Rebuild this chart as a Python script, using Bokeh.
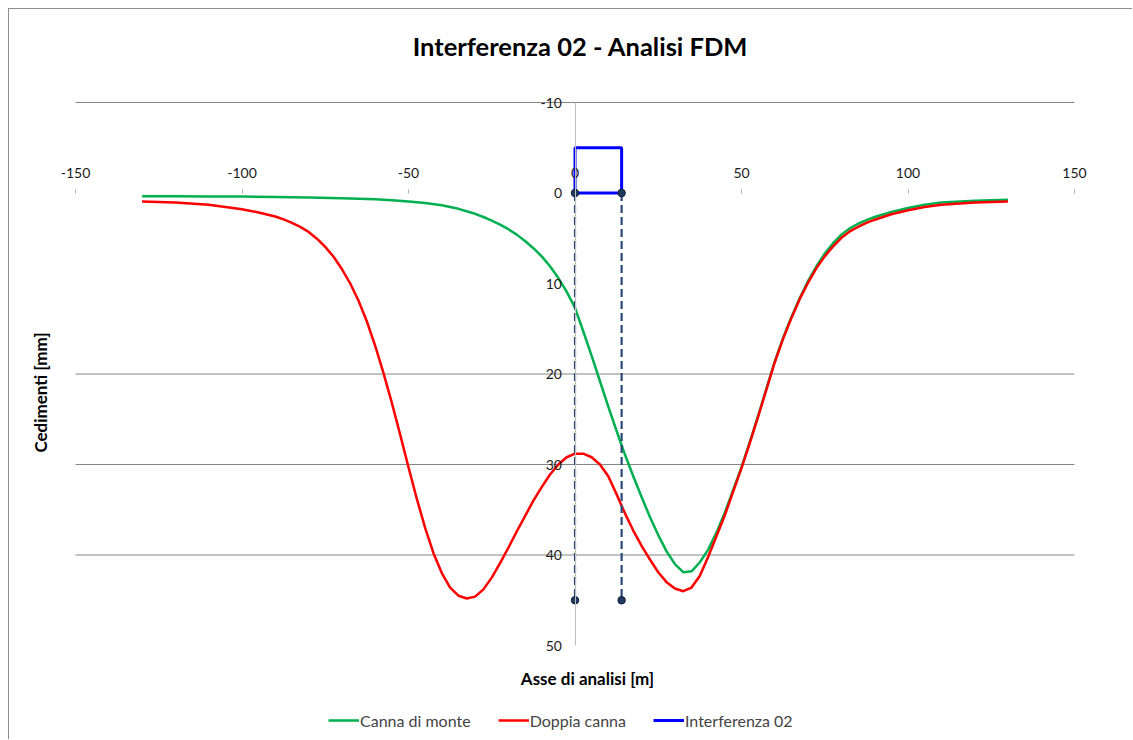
import math
from bokeh.plotting import figure
from bokeh.models import (Range1d, LinearAxis, FixedTicker, Label, Legend,
                          LegendItem, ColumnDataSource)
from bokeh.embed import file_html
from bokeh.resources import INLINE

FONT = "Lato"

# ---------------- data ----------------
x_ticks = [-150, -100, -50, 0, 50, 100, 150]
y_ticks = [-10, 0, 10, 20, 30, 40, 50]
y_grid_ticks = [-10, 20, 30, 40]

monte_x = [-130, -120, -110, -100, -90, -80, -70, -60, -55, -50, -45, -40, -35, -30,
           -27.5, -25, -22.5, -20, -17.5, -15, -12.5, -10, -7.5, -5, -2.5, 0,
           2.5, 5, 7.5, 10, 12.5, 15, 17.5, 20, 22.5, 25, 27.5, 30, 32.5, 35, 37.5,
           40, 42.5, 45, 47.5, 50, 52.5, 55, 57.5, 60, 62.5, 65, 67.5, 70, 72.5, 75,
           77.5, 80, 82.5, 85, 87.5, 90, 95, 100, 105, 110, 120, 130]
monte_y = [0.35, 0.35, 0.38, 0.4, 0.45, 0.5, 0.58, 0.7, 0.8, 0.93, 1.1, 1.35, 1.75, 2.3,
           2.65, 3.05, 3.5, 4.0, 4.6, 5.3, 6.1, 7.0, 8.1, 9.4, 10.9, 12.7,
           15.3, 18.0, 20.8, 23.6, 26.3, 28.9, 31.3, 33.6, 35.8, 37.8, 39.6, 41.0, 41.9, 41.8, 40.8,
           39.4, 37.5, 35.3, 32.8, 30.3, 27.5, 24.6, 21.6, 18.6, 16.0, 13.7, 11.6, 9.7, 8.1, 6.7,
           5.55, 4.6, 3.9, 3.4, 3.0, 2.65, 2.1, 1.65, 1.3, 1.05, 0.85, 0.75]

doppia_x = [-130, -120, -110, -100, -95, -90, -87.5, -85, -82.5, -80, -77.5, -75, -72.5,
            -70, -67.5, -65, -62.5, -60, -57.5, -55, -52.5, -50, -47.5, -45, -42.5, -40,
            -37.5, -35, -32.5, -30, -27.5, -25, -22.5, -20, -17.5, -15, -12.5, -10, -7.5,
            -5, -2.5, 0, 2.5, 5, 7.5, 10, 12.5, 15, 17.5, 20, 22.5, 25, 27.5, 30, 32.5, 35,
            37.5, 40, 42.5, 45, 47.5, 50, 52.5, 55, 57.5, 60, 62.5, 65, 67.5, 70, 72.5,
            75, 77.5, 80, 82.5, 85, 87.5, 90, 95, 100, 105, 110, 120, 130]
doppia_y = [0.95, 1.05, 1.3, 1.8, 2.15, 2.6, 2.92, 3.3, 3.75, 4.3, 5.05, 5.95, 7.05,
            8.4, 10.0, 11.9, 14.2, 16.9, 19.9, 23.2, 26.7, 30.3, 33.8, 37.0, 39.8, 42.0,
            43.6, 44.5, 44.8, 44.6, 43.8, 42.5, 40.9, 39.2, 37.4, 35.7, 34.0, 32.5, 31.1,
            30.0, 29.2, 28.8, 28.8, 29.2, 30.0, 31.3, 33.3, 35.4, 37.3, 39.0, 40.5, 41.9, 43.0, 43.7, 44.0, 43.6,
            42.3, 40.2, 37.9, 35.6, 33.0, 30.4, 27.6, 24.7, 21.7, 18.7, 16.1, 13.8, 11.7, 9.9, 8.3,
            7.0, 5.9, 4.95, 4.25, 3.75, 3.3, 2.95, 2.35, 1.9, 1.55, 1.3, 1.05, 0.95]

interf_x = [0, 0, 14, 14, 0]
interf_y = [0, -5, -5, 0, 0]

sez_x = [0, 14]
sez_top = [0, 0]
sez_bot = [45, 45]

title_text = "Interferenza 02 - Analisi FDM"
x_title = "Asse di analisi [m]"
y_title = "Cedimenti [mm]"
legend_labels = ["Canna di monte", "Doppia canna", "Interferenza 02"]

# ---------------- layout (pixels) ----------------
W, H = 1124, 731                 # canvas size
PL, PT, PR, PB = 66, 93, 1065, 636  # plot area inside canvas
xmin, xmax = x_ticks[0], x_ticks[-1]
ymin, ymax = y_ticks[0], y_ticks[-1]
kx = (PR - PL) / (xmax - xmin)
ky = (PB - PT) / (ymax - ymin)
x_start = xmin - PL / kx
x_end = xmax + (W - PR) / kx
y_top = ymin - PT / ky
y_bottom = ymax + (H - PB) / ky

p = figure(width=W, height=H,
           x_range=Range1d(x_start, x_end), y_range=Range1d(y_bottom, y_top),
           x_axis_type=None, y_axis_type=None,
           output_backend="svg", toolbar_location=None,
           min_border_left=0, min_border_right=0,
           min_border_top=0, min_border_bottom=0,
           outline_line_color=None, background_fill_color="white",
           border_fill_color="white")
p.styles = {"margin-left": "8px", "margin-top": "8px",
            "border-top": "1px solid #8e8e8e", "border-left": "1px solid #8e8e8e"}

# horizontal gridlines limited to the plot area
p.segment(x0=[xmin] * len(y_grid_ticks), x1=[xmax] * len(y_grid_ticks),
          y0=y_grid_ticks, y1=y_grid_ticks, line_color="#868686", line_width=1)

xaxis = LinearAxis(fixed_location=0, ticker=FixedTicker(ticks=x_ticks),
                   bounds=(xmin, xmax),
                   major_label_overrides={t: str(t) for t in x_ticks},
                   axis_line_color=None, major_tick_line_color="#b0b0b0",
                   major_tick_out=4, major_tick_in=0, minor_tick_line_color=None,
                   major_label_text_font=FONT, major_label_text_font_size="14px",
                   major_label_text_color="#1a1a1a", major_label_standoff=11)
p.add_layout(xaxis, "above")

yaxis = LinearAxis(fixed_location=0, ticker=FixedTicker(ticks=y_ticks),
                   bounds=(ymin, ymax),
                   major_label_overrides={t: str(t) for t in y_ticks},
                   axis_line_color="#bfbfbf", axis_line_width=1,
                   major_tick_line_color=None, major_tick_out=0, major_tick_in=0,
                   minor_tick_line_color=None,
                   major_label_text_font=FONT, major_label_text_font_size="14px",
                   major_label_text_color="#1a1a1a", major_label_standoff=13)
p.add_layout(yaxis, "left")

src_m = ColumnDataSource(dict(x=monte_x, y=monte_y))
src_d = ColumnDataSource(dict(x=doppia_x, y=doppia_y))
src_i = ColumnDataSource(dict(x=interf_x, y=interf_y))

r_m = p.line("x", "y", source=src_m, line_color="#00b050", line_width=2.5,
             line_join="round")
r_d = p.line("x", "y", source=src_d, line_color="#ff0000", line_width=2.5,
             line_join="round")

p.segment(x0=sez_x, y0=sez_top, x1=sez_x, y1=sez_bot, line_color="#2c4a78",
          line_width=2.2, line_dash="8 4")
r_i = p.line("x", "y", source=src_i, line_color="#0000ff", line_width=3)
p.scatter(x=sez_x + sez_x, y=sez_top + sez_bot, size=7.5, fill_color="#1f3a5f",
          line_color="#10203a", line_width=1)

# titles (screen units: from the canvas' bottom-left corner)
p.add_layout(Label(x=571, y=H - 36, x_units="screen", y_units="screen",
                   text=title_text, text_align="center", text_baseline="middle",
                   text_font=FONT, text_font_size="25.5px", text_font_style="bold",
                   text_color="#000000"))
p.add_layout(Label(x=578, y=H - 669, x_units="screen", y_units="screen",
                   text=x_title, text_align="center", text_baseline="middle",
                   text_font=FONT, text_font_size="17px", text_font_style="bold",
                   text_color="#000000"))
p.add_layout(Label(x=31, y=H - 383, x_units="screen", y_units="screen",
                   text=y_title, text_align="center", text_baseline="middle",
                   angle=math.pi / 2,
                   text_font=FONT, text_font_size="17px", text_font_style="bold",
                   text_color="#000000"))

legend = Legend(items=[LegendItem(label=legend_labels[0], renderers=[r_m]),
                       LegendItem(label=legend_labels[1], renderers=[r_d]),
                       LegendItem(label=legend_labels[2], renderers=[r_i])],
                orientation="horizontal", location=(319, 10), margin=0,
                border_line_color=None, background_fill_alpha=0,
                label_text_font=FONT, label_text_font_size="16px",
                glyph_width=31, label_standoff=1, spacing=27, padding=2)
p.add_layout(legend)

open("out.html", "w").write(file_html(p, INLINE))
